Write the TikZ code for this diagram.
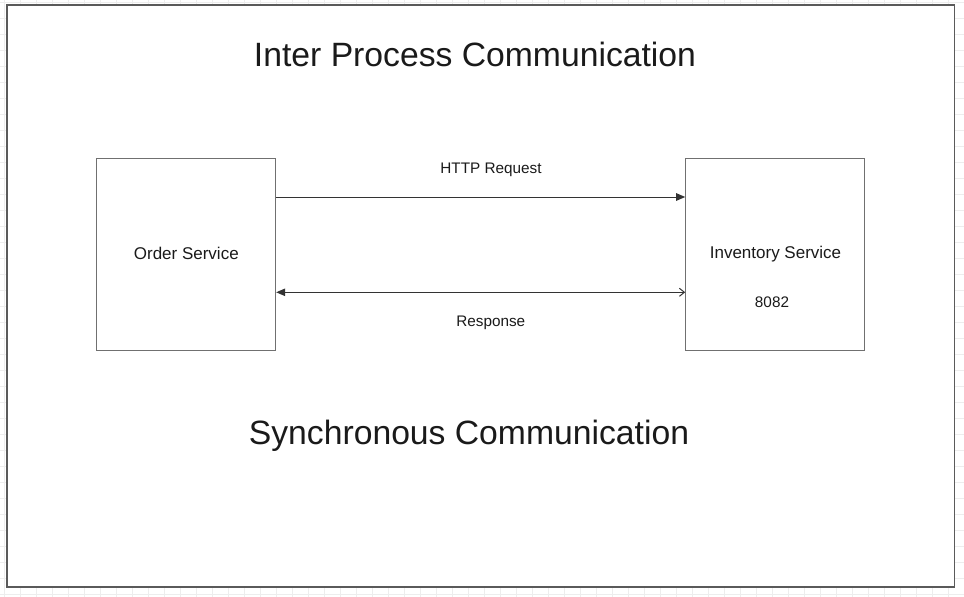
\documentclass[tikz,border=0pt]{standalone}
\usepackage{fontspec}
\setmainfont{Liberation Sans}
\usetikzlibrary{arrows.meta,calc}
\definecolor{gridc}{HTML}{EDEDED}
\definecolor{framec}{HTML}{5A5A5A}
\definecolor{boxc}{HTML}{707070}
\definecolor{linec}{HTML}{333333}
\definecolor{textc}{HTML}{1A1A1A}
\tikzset{
  gridline/.style={draw=gridc,line width=0.8pt},
  framebox/.style={draw=framec,line width=1.6pt,fill=white},
  svcbox/.style={draw=boxc,line width=1pt,fill=white,minimum width=179pt,minimum height=191.6pt,inner sep=0pt},
  bigtxt/.style={anchor=base,inner sep=0pt,text=textc,font=\fontsize{33.7}{40}\selectfont},
  boxtxt/.style={anchor=base,inner sep=0pt,text=textc,font=\fontsize{17}{20}\selectfont},
  smalltxt/.style={anchor=base,inner sep=0pt,text=textc,font=\fontsize{15.3}{18}\selectfont},
  conn/.style={draw=linec,line width=1pt},
  blockhead/.style={Triangle[length=9pt,width=7.5pt]}
}
\begin{document}
\begin{tikzpicture}[x=1pt,y=-1pt]
\useasboundingbox (0,0) rectangle (964,597);
\fill[white] (0,0) rectangle (964,597);
\foreach \gx in {4.5,20.5,...,964} \draw[gridline] (\gx,0) -- (\gx,597);
\foreach \gy in {2.5,18.5,...,597} \draw[gridline] (0,\gy) -- (964,\gy);
\draw[framebox] (7,5) rectangle (954.5,587);
\node[bigtxt] (title) at (475,66) {Inter Process Communication};
\node[bigtxt] (subtitle) at (469,444) {Synchronous Communication};
\node[svcbox] (order) at (186.2,254.5) {};
\node[svcbox] (inventory) at (775.2,254.5) {};
\node[boxtxt] (ordertxt) at (186.3,259.3) {Order Service};
\node[boxtxt] (invtxt) at (775.5,258.8) {Inventory Service};
\node[smalltxt] (port) at (772,307.3) {8082};
\draw[conn,-{Triangle[length=9pt,width=7.5pt]}] ($(order.east)+(0,-57.5)$) -- ($(inventory.west)+(0,-57.5)$);
\draw[conn,{Triangle[length=9pt,width=7.5pt]}-{Straight Barb[length=5pt,width=8pt]}] ($(order.east)+(0,37.8)$) -- ($(inventory.west)+(0,37.8)$);
\node[smalltxt] (httplbl) at (491,173.3) {HTTP Request};
\node[smalltxt] (resplbl) at (490.8,326) {Response};
\end{tikzpicture}
\end{document}
